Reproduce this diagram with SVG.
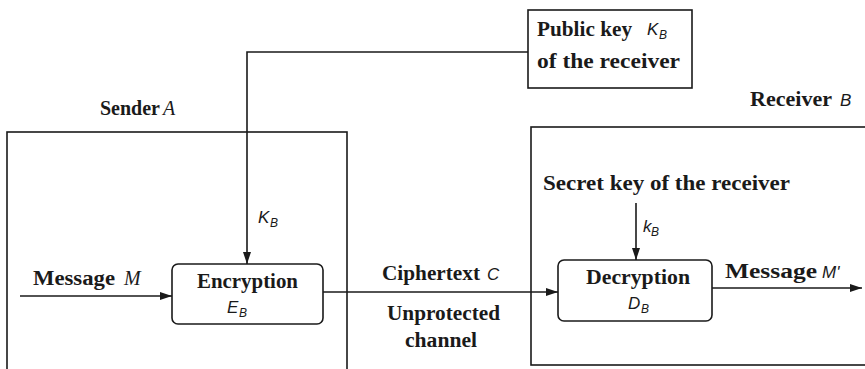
<svg xmlns="http://www.w3.org/2000/svg" width="865" height="369" viewBox="0 0 865 369">
<defs>
<marker id="ah" markerWidth="12" markerHeight="8" refX="12" refY="4" orient="auto" markerUnits="userSpaceOnUse">
<path d="M0,0 L12,4 L0,8 Z" fill="#1a1a1a"/>
</marker>
<style>
.ln{stroke:#1a1a1a;stroke-width:1.6;fill:none}
.bx{stroke:#1a1a1a;stroke-width:1.6;fill:#fff}
.t{font-family:"Liberation Serif",serif;font-weight:bold;font-size:20px;fill:#1a1a1a}
.v{font-family:"Liberation Sans",sans-serif;font-style:italic;font-size:17px;fill:#1a1a1a}
.vs{font-family:"Liberation Sans",sans-serif;font-style:italic;font-size:12px;fill:#1a1a1a}
.vi{font-family:"Liberation Serif",serif;font-style:italic;font-size:20px;fill:#1a1a1a}
</style>
</defs>
<g id="sender">
<rect class="bx" x="7" y="132" width="340" height="240"/>
<text class="t" x="100" y="115" textLength="60" lengthAdjust="spacingAndGlyphs">Sender</text>
<text class="vi" x="163" y="115">A</text>
</g>
<g id="receiver">
<rect class="bx" x="531" y="127" width="340" height="238"/>
<text class="t" x="750" y="106" textLength="82" lengthAdjust="spacingAndGlyphs">Receiver</text>
<text class="v" x="840" y="106">B</text>
</g>
<g id="publickey">
<rect class="bx" x="528" y="10" width="164" height="78"/>
<text class="t" x="537" y="36" textLength="95" lengthAdjust="spacingAndGlyphs">Public key</text>
<text class="v" x="647" y="35">K</text>
<text class="vs" x="659" y="39">B</text>
<text class="t" x="537" y="68" textLength="143" lengthAdjust="spacingAndGlyphs">of the  receiver</text>
</g>
<g id="encryption">
<rect class="bx" x="172" y="264" width="151" height="60" rx="6"/>
<text class="t" x="197" y="288" textLength="101" lengthAdjust="spacingAndGlyphs">Encryption</text>
<text class="v" x="227" y="313">E</text>
<text class="vs" x="239" y="317">B</text>
</g>
<g id="decryption">
<rect class="bx" x="558" y="260" width="154" height="61" rx="6"/>
<text class="t" x="586" y="284" textLength="104" lengthAdjust="spacingAndGlyphs">Decryption</text>
<text class="v" x="628" y="309">D</text>
<text class="vs" x="641" y="313">B</text>
</g>
<g id="connectors">
<polyline class="ln" points="528,52 247,52 247,264" marker-end="url(#ah)"/>
<line class="ln" x1="20" y1="296" x2="172" y2="296" marker-end="url(#ah)"/>
<line class="ln" x1="323" y1="292" x2="558" y2="292" marker-end="url(#ah)"/>
<line class="ln" x1="636" y1="203" x2="636" y2="260" marker-end="url(#ah)"/>
<line class="ln" x1="712" y1="288" x2="862" y2="288" marker-end="url(#ah)"/>
</g>
<g id="labels">
<text class="v" x="258" y="223">K</text>
<text class="vs" x="270" y="227">B</text>
<text class="t" x="33" y="285" textLength="82" lengthAdjust="spacingAndGlyphs">Message</text>
<text class="vi" x="124" y="285">M</text>
<text class="t" x="382" y="280" textLength="98" lengthAdjust="spacingAndGlyphs">Ciphertext</text>
<text class="v" x="487" y="280">C</text>
<text class="t" x="387" y="320" textLength="113" lengthAdjust="spacingAndGlyphs">Unprotected</text>
<text class="t" x="405" y="347" textLength="72" lengthAdjust="spacingAndGlyphs">channel</text>
<text class="t" x="543" y="190" textLength="247" lengthAdjust="spacingAndGlyphs">Secret key of the receiver</text>
<text class="v" x="643" y="232">k</text>
<text class="vs" x="651" y="236">B</text>
<text class="t" x="725" y="278" textLength="92" lengthAdjust="spacingAndGlyphs">Message</text>
<text class="v" x="822" y="278">M'</text>
</g>
</svg>
